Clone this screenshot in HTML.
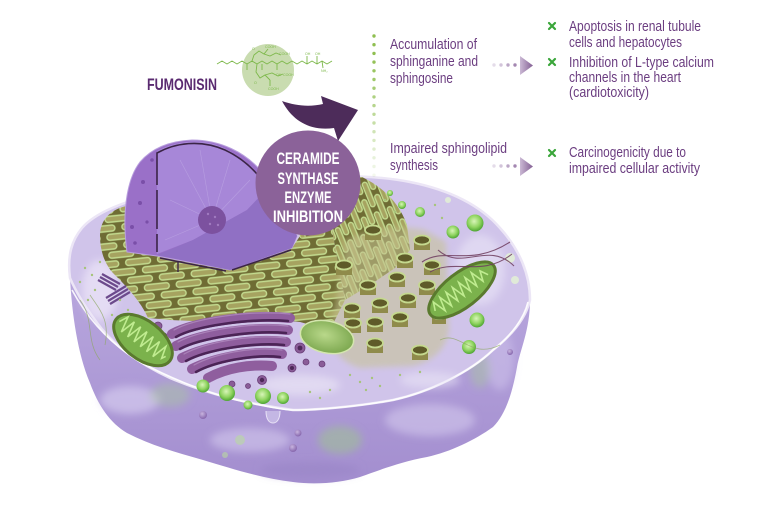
<!DOCTYPE html>
<html><head><meta charset="utf-8"><style>
html,body{margin:0;padding:0;background:#fff;}
svg{display:block;}
text{font-family:"Liberation Sans Narrow","Liberation Sans",sans-serif;}
</style></head><body>
<svg width="768" height="512" viewBox="0 0 768 512" xmlns="http://www.w3.org/2000/svg">
<defs>
  <linearGradient id="body" x1="0" y1="0" x2="0" y2="1">
    <stop offset="0" stop-color="#c2b3e3"/>
    <stop offset="0.6" stop-color="#b09dd8"/>
    <stop offset="1" stop-color="#a38ecf"/>
  </linearGradient>
  <radialGradient id="gs" cx="0.45" cy="0.4" r="0.6">
    <stop offset="0" stop-color="#d8f5b8"/>
    <stop offset="0.6" stop-color="#8fd460"/>
    <stop offset="1" stop-color="#4ea533"/>
  </radialGradient>
  <radialGradient id="ps" cx="0.4" cy="0.35" r="0.6">
    <stop offset="0" stop-color="#c8b4df"/>
    <stop offset="1" stop-color="#8a6bb0"/>
  </radialGradient>
  <radialGradient id="ves" cx="0.45" cy="0.45" r="0.6">
    <stop offset="0" stop-color="#b9d88a"/>
    <stop offset="1" stop-color="#79a54c"/>
  </radialGradient>
  <linearGradient id="ah" x1="0" y1="0" x2="1" y2="0">
    <stop offset="0" stop-color="#cbb9d5"/>
    <stop offset="1" stop-color="#835f93"/>
  </linearGradient>
  <pattern id="er1" width="32" height="18" patternUnits="userSpaceOnUse" patternTransform="rotate(-6)">
    <rect width="32" height="18" fill="#6f6c34"/>
    <rect x="1.5" y="1.5" width="25" height="6" rx="3" fill="#a6a360" stroke="#c3db8f" stroke-width="1.4"/>
    <rect x="17.5" y="10.5" width="25" height="6" rx="3" fill="#a6a360" stroke="#c3db8f" stroke-width="1.4"/>
    <rect x="-14.5" y="10.5" width="25" height="6" rx="3" fill="#a6a360" stroke="#c3db8f" stroke-width="1.4"/>
  </pattern>
  <pattern id="er2" width="32" height="14" patternUnits="userSpaceOnUse" patternTransform="rotate(68)">
    <rect width="32" height="14" fill="#6f6c34"/>
    <rect x="1.5" y="1.5" width="26" height="5" rx="2.5" fill="#a6a360" stroke="#c3db8f" stroke-width="1.4"/>
    <rect x="17.5" y="8.5" width="26" height="5" rx="2.5" fill="#a6a360" stroke="#c3db8f" stroke-width="1.4"/>
    <rect x="-14.5" y="8.5" width="26" height="5" rx="2.5" fill="#a6a360" stroke="#c3db8f" stroke-width="1.4"/>
  </pattern>
  <filter id="blur" x="-50%" y="-50%" width="200%" height="200%"><feGaussianBlur stdDeviation="4"/></filter>
  <filter id="blur3" x="-20%" y="-20%" width="140%" height="140%"><feGaussianBlur stdDeviation="3"/></filter>
</defs>

<!-- cell silhouette / lower body -->
<path d="M70,278 C67,255 72,240 82,228 C95,213 120,203 160,192 C200,185 240,180 300,177 C340,175 380,176 410,182 C450,190 480,205 500,228 C520,250 530,275 530,300 C530,330 520,350 517,367 C512,395 505,415 493,427 C475,440 450,452 427,457 C400,462 380,470 360,477 C340,483 315,485 293,482 C260,478 230,468 203,460 C175,452 150,445 127,433 C110,423 98,405 90,383 C78,355 72,315 70,278 Z" fill="url(#body)"/>
<g filter="url(#blur)">
  <ellipse cx="130" cy="400" rx="30" ry="14" fill="#d4caee" opacity="0.7"/>
  <ellipse cx="250" cy="440" rx="40" ry="12" fill="#d2c8ec" opacity="0.6"/>
  <ellipse cx="430" cy="420" rx="45" ry="16" fill="#d2c8ec" opacity="0.6"/>
  <ellipse cx="500" cy="360" rx="14" ry="30" fill="#ccc0ea" opacity="0.6"/>
  <ellipse cx="340" cy="440" rx="22" ry="14" fill="#9fc292" opacity="0.55"/>
  <ellipse cx="170" cy="395" rx="20" ry="12" fill="#a9c79e" opacity="0.45"/>
  <ellipse cx="480" cy="370" rx="10" ry="18" fill="#a9c79e" opacity="0.45"/>
  <ellipse cx="310" cy="470" rx="50" ry="8" fill="#9a85c6" opacity="0.6"/>
</g>
<g fill="url(#ps)">
  <circle cx="203" cy="415" r="4"/><circle cx="298" cy="433" r="3.5"/><circle cx="293" cy="448" r="4"/>
  <circle cx="182" cy="370" r="3.5"/><circle cx="515" cy="322" r="3"/><circle cx="510" cy="352" r="3"/>
</g>
<circle cx="240" cy="440" r="5" fill="#b9d8a0" opacity="0.6"/>
<circle cx="225" cy="455" r="3" fill="#b9d8a0" opacity="0.6"/>
<path d="M266,411 C266,419 269,423 273,423 C277,423 280,419 280,411" fill="#c4b7e4" stroke="#e8e2f6" stroke-width="1"/>

<!-- top surface -->
<path d="M70,278 C67,255 72,240 82,228 C95,213 120,203 160,192 C200,185 240,180 300,177 C340,175 380,176 410,182 C450,190 480,205 500,228 C520,250 530,275 530,300 C526,318 512,335 493,350 C470,372 430,392 393,400 C360,406 320,410 293,410 C250,404 210,395 170,378 C140,364 112,345 95,320 C84,305 76,292 70,278 Z" fill="#d0c4ea" stroke="#ece6f6" stroke-width="2.5"/>
<path d="M72,290 C84,312 104,340 140,362 C170,378 210,395 250,403 C270,407 285,410 293,410 C320,410 360,406 393,400 C430,392 470,372 493,350 C512,335 524,318 528,302" fill="none" stroke="#ffffff" stroke-width="1.6" opacity="0.9"/>
<g filter="url(#blur)">
  <ellipse cx="100" cy="290" rx="18" ry="30" fill="#ece6f8" opacity="0.7"/>
  <ellipse cx="480" cy="270" rx="25" ry="35" fill="#e6dff5" opacity="0.7"/>
  <ellipse cx="300" cy="385" rx="40" ry="10" fill="#e8e2f5" opacity="0.7"/>
  <ellipse cx="430" cy="380" rx="30" ry="8" fill="#e8e2f5" opacity="0.6"/>
</g>

<!-- ER -->
<path d="M100,236 C100,220 110,210 126,206 L127,252 L157,256 L230,270 L292,248 L300,236 L332,230 L345,300 L330,330 L300,322 L260,318 L215,322 L170,320 L148,318 C140,300 125,285 112,272 C104,262 100,250 100,236 Z" fill="url(#er1)"/>
<path d="M300,238 L292,182 L330,176 L362,177 C385,188 400,205 407,225 L410,250 L395,268 L370,285 L345,300 L332,230 Z" fill="url(#er2)"/>

<!-- tube region -->
<path d="M345,240 C370,230 400,224 425,230 L446,242 L449,330 C446,350 432,362 412,366 L360,368 C340,362 330,348 330,332 L338,290 Z" fill="#c6c392" opacity="0.55" filter="url(#blur3)"/>
<g>
  <g fill="#8f8b4b">
    <rect x="414" y="240" width="16" height="10"/><rect x="397" y="258" width="16" height="10"/><rect x="424" y="265" width="16" height="10"/>
    <rect x="389" y="277" width="16" height="10"/><rect x="419" y="285" width="16" height="10"/><rect x="360" y="285" width="16" height="10"/>
    <rect x="400" y="298" width="16" height="10"/><rect x="372" y="303" width="16" height="10"/><rect x="344" y="308" width="16" height="10"/>
    <rect x="392" y="317" width="16" height="10"/><rect x="367" y="322" width="16" height="10"/><rect x="345" y="323" width="16" height="10"/>
    <rect x="367" y="343" width="16" height="10"/><rect x="412" y="350" width="16" height="10"/><rect x="365" y="230" width="16" height="10"/>
    <rect x="336" y="265" width="16" height="10"/><rect x="432" y="315" width="14" height="9"/>
  </g>
  <g fill="#5f5b29" stroke="#c5d98f" stroke-width="1.8">
    <ellipse cx="422" cy="240" rx="8" ry="4.5"/><ellipse cx="405" cy="258" rx="8" ry="4.5"/><ellipse cx="432" cy="265" rx="8" ry="4.5"/>
    <ellipse cx="397" cy="277" rx="8" ry="4.5"/><ellipse cx="427" cy="285" rx="8" ry="4.5"/><ellipse cx="368" cy="285" rx="8" ry="4.5"/>
    <ellipse cx="408" cy="298" rx="8" ry="4.5"/><ellipse cx="380" cy="303" rx="8" ry="4.5"/><ellipse cx="352" cy="308" rx="8" ry="4.5"/>
    <ellipse cx="400" cy="317" rx="8" ry="4.5"/><ellipse cx="375" cy="322" rx="8" ry="4.5"/><ellipse cx="353" cy="323" rx="8" ry="4.5"/>
    <ellipse cx="375" cy="343" rx="8" ry="4.5"/><ellipse cx="420" cy="350" rx="8" ry="4.5"/><ellipse cx="373" cy="230" rx="8" ry="4.5"/>
    <ellipse cx="344" cy="265" rx="8" ry="4.5"/><ellipse cx="439" cy="315" rx="7" ry="4"/>
  </g>
</g>

<!-- big vesicle -->
<ellipse cx="327" cy="337" rx="27" ry="16" transform="rotate(12 327 337)" fill="url(#ves)" stroke="#d4e6ae" stroke-width="1.5"/>

<!-- Golgi -->
<g fill="none" stroke-linecap="round">
  <g stroke="#8f5e9e" stroke-width="10">
    <path d="M172,334 C195,322 250,314 290,318"/>
    <path d="M176,346 C200,334 252,326 288,330"/>
    <path d="M182,358 C206,346 252,338 286,342"/>
    <path d="M192,369 C214,358 252,350 282,354"/>
    <path d="M208,378 C226,368 250,364 272,366"/>
  </g>
  <g stroke="#4b2456" stroke-width="2.6">
    <path d="M176,337 C195,326 250,318 288,321"/>
    <path d="M180,349 C200,338 252,330 286,333"/>
    <path d="M186,361 C206,350 252,342 284,345"/>
    <path d="M196,372 C214,362 252,354 280,357"/>
  </g>
  <g stroke="#b08abf" stroke-width="1.2" opacity="0.8">
    <path d="M174,330 C195,318 250,310 290,314"/>
    <path d="M178,342 C200,330 252,322 288,326"/>
    <path d="M184,354 C206,342 252,334 286,338"/>
    <path d="M194,365 C214,354 252,346 282,350"/>
  </g>
</g>
<g fill="#8a5c98" stroke="#6a3f78" stroke-width="0.8">
  <circle cx="158" cy="326" r="4"/><circle cx="164" cy="336" r="3"/><circle cx="300" cy="348" r="5"/>
  <circle cx="292" cy="368" r="4"/><circle cx="262" cy="380" r="4.5"/><circle cx="232" cy="384" r="3"/><circle cx="248" cy="386" r="2.5"/>
  <circle cx="306" cy="362" r="3"/><circle cx="322" cy="364" r="3"/>
</g>
<g fill="#4d2858"><circle cx="292" cy="368" r="2"/><circle cx="262" cy="380" r="2.2"/><circle cx="300" cy="348" r="2.4"/></g>

<!-- mitochondria -->
<g transform="rotate(-38 462 290)">
  <ellipse cx="462" cy="290" rx="40" ry="17" fill="#7bb24c" stroke="#5a7a2e" stroke-width="3"/>
  <path d="M428,290 l4,-8 l4,14 l4,-14 l4,14 l4,-14 l4,14 l4,-14 l4,14 l4,-14 l4,14 l4,-14 l4,14 l4,-14 l4,14 l4,-10 l4,8" fill="none" stroke="#c0ec90" stroke-width="1.6"/>
</g>
<g transform="rotate(38 143 340)">
  <ellipse cx="143" cy="340" rx="34" ry="19" fill="#7bb24c" stroke="#5a7a2e" stroke-width="3"/>
  <path d="M113,340 l4,-9 l4,16 l4,-16 l4,16 l4,-16 l4,16 l4,-16 l4,16 l4,-16 l4,16 l4,-16 l4,16 l4,-16 l4,12 l2,-4" fill="none" stroke="#c0ec90" stroke-width="1.6"/>
</g>

<!-- green spheres -->
<g fill="url(#gs)">
  <circle cx="203" cy="386" r="6.5"/><circle cx="227" cy="393" r="8"/><circle cx="263" cy="396" r="8"/>
  <circle cx="283" cy="398" r="6"/><circle cx="248" cy="405" r="4.5"/><circle cx="475" cy="223" r="8.5"/>
  <circle cx="453" cy="232" r="6.5"/><circle cx="477" cy="320" r="7.5"/><circle cx="469" cy="347" r="7"/>
  <circle cx="420" cy="212" r="5"/><circle cx="402" cy="205" r="4"/><circle cx="390" cy="193" r="3"/>
</g>
<g fill="#e4f4d4" opacity="0.8">
  <circle cx="510" cy="258" r="5"/><circle cx="515" cy="280" r="4"/><circle cx="448" cy="200" r="3"/>
</g>

<!-- fibers -->
<g fill="none" stroke="#6e3c5e" stroke-width="1.1" opacity="0.85">
  <path d="M422,262 C445,246 470,268 510,242"/>
  <path d="M430,272 C455,258 482,278 512,254"/>
  <path d="M438,250 C462,272 488,240 514,266"/>
</g>
<g fill="none" stroke="#8ea864" stroke-width="0.8" opacity="0.7">
  <path d="M80,300 C95,320 85,340 100,360"/>
  <path d="M90,295 C100,310 110,320 105,345"/>
  <path d="M440,340 C460,330 470,360 500,345"/>
</g>
<!-- centriole -->
<g stroke="#6c4a8c" stroke-width="2.2">
  <path d="M98,280 L116,290"/><path d="M100,277 L118,287"/><path d="M102,274 L120,284"/>
  <path d="M106,298 L126,286"/><path d="M108,301 L128,289"/><path d="M110,304 L130,292"/>
</g>
<g fill="#a6c47a">
  <circle cx="85" cy="268" r="1.2"/><circle cx="92" cy="275" r="1.2"/><circle cx="80" cy="282" r="1.2"/><circle cx="95" cy="290" r="1.2"/>
  <circle cx="88" cy="300" r="1.2"/><circle cx="100" cy="262" r="1.2"/><circle cx="350" cy="375" r="1.2"/><circle cx="360" cy="382" r="1.2"/>
  <circle cx="372" cy="378" r="1.2"/><circle cx="380" cy="386" r="1.2"/><circle cx="366" cy="390" r="1.2"/><circle cx="310" cy="392" r="1.2"/>
  <circle cx="320" cy="398" r="1.2"/><circle cx="330" cy="390" r="1.2"/><circle cx="400" cy="375" r="1.2"/><circle cx="420" cy="372" r="1.2"/>
  <circle cx="385" cy="200" r="1.2"/><circle cx="395" cy="212" r="1.2"/><circle cx="435" cy="205" r="1.2"/><circle cx="442" cy="218" r="1.2"/>
  <circle cx="120" cy="300" r="1.2"/><circle cx="128" cy="310" r="1.2"/><circle cx="112" cy="315" r="1.2"/>
</g>

<!-- nucleus -->
<path d="M127,252 C122,215 126,180 140,162 C152,148 170,141 192,140 C220,140 245,152 262,172 L272,195 L297,236 L292,248 L230,270 L157,256 Z" fill="#9a70c8" stroke="#b9a0de" stroke-width="1"/>
<g fill="#7a4fa8"><circle cx="143" cy="182" r="2"/><circle cx="140" cy="203" r="2"/><circle cx="132" cy="227" r="2"/><circle cx="135" cy="243" r="1.8"/><circle cx="152" cy="160" r="1.8"/><circle cx="147" cy="222" r="1.6"/></g>
<path d="M157,254 L157,151 C172,143 190,140 205,142 C230,146 252,165 268,188 L247,210 L193,240 Z" fill="#a787d8"/>
<path d="M157,255 L193,240 L247,210 L268,188 L287,207 L297,236 L292,248 L230,270 Z" fill="#9070c4"/>
<g fill="none" stroke="#c2aee6" stroke-width="0.6" opacity="0.6">
  <path d="M212,220 L180,160"/><path d="M212,220 L200,150"/><path d="M212,220 L230,160"/><path d="M212,220 L170,200"/><path d="M212,220 L165,240"/><path d="M212,220 L250,180"/>
</g>
<circle cx="212" cy="220" r="14" fill="#7c519f"/>
<g fill="#a07ac0"><circle cx="208" cy="214" r="1.2"/><circle cx="215" cy="217" r="1.2"/><circle cx="210" cy="224" r="1.2"/><circle cx="218" cy="225" r="1.2"/></g>
<g fill="none" stroke="#3b2446" stroke-width="1.6">
  <path d="M157,252 L157,234 M157,229 L157,190 M157,185 L157,153 C175,143 200,139 225,150 C240,157 252,167 262,180"/>
  <path d="M160,258 L226,271 M232,270 L291,250"/>
</g>
<path d="M178,262 L178,272" stroke="#3b2446" stroke-width="1.4"/>

<!-- ceramide circle -->
<circle cx="308" cy="183" r="52.5" fill="#8b6299"/>
<g fill="#ffffff" font-weight="bold" font-size="17" text-anchor="middle">
  <text x="308" y="164" textLength="63" lengthAdjust="spacingAndGlyphs">CERAMIDE</text>
  <text x="308" y="184" textLength="61" lengthAdjust="spacingAndGlyphs">SYNTHASE</text>
  <text x="308" y="203" textLength="47" lengthAdjust="spacingAndGlyphs">ENZYME</text>
  <text x="308" y="222" textLength="70" lengthAdjust="spacingAndGlyphs">INHIBITION</text>
</g>

<!-- curved arrow -->
<path d="M282,101 C296,106 310,107 323,104 L321,96 L358,110 L338,141 L334,128 C314,131 294,124 282,101 Z" fill="#4d2c5a"/>

<!-- molecule -->
<circle cx="268" cy="70" r="26" fill="#c9dcb0"/>
<g stroke="#7db84a" stroke-width="0.9" fill="none">
  <path d="M217,64 L222,61 L227,64 L232,61 L237,64 L242,61 L247,64 L252,61 L257,64 L262,61 L267,64 L272,61 L277,64 L282,61 L287,64 L292,61 L297,64 L302,61 L307,64 L312,61 L317,64 L322,61 L327,64 L332,61"/>
  <path d="M247,64 L247,70 M262,64 L262,70 M277,64 L277,70 M307,64 L307,56 M317,64 L317,56 M322,61 L323,68"/>
  <path d="M252,61 L254,55 L259,51 L264,54 L268,49 M264,54 L270,56 L276,53 L281,55"/>
  <path d="M257,64 L256,72 L260,78 L265,75 L270,80 M265,75 L272,73 L278,76 L283,74 M270,80 L270,86"/>
</g>
<g fill="#7db84a" font-size="3.6" font-family="Liberation Sans, sans-serif">
  <text x="252" y="50">O</text><text x="265" y="48">COOH</text><text x="279" y="55">COOH</text>
  <text x="276" y="76">OH</text><text x="283" y="76">COOH</text><text x="268" y="90">COOH</text>
  <text x="305" y="55">OH</text><text x="315" y="55">OH</text><text x="321" y="72">NH₂</text><text x="254" y="84">O</text>
</g>
<text x="147" y="90" font-size="17" font-weight="bold" fill="#5a2a70" textLength="70" lengthAdjust="spacingAndGlyphs">FUMONISIN</text>

<!-- vertical dotted line -->
<g fill="#8fbf50">
  <circle cx="374" cy="36" r="1.7"/><circle cx="374" cy="44.7" r="1.7"/><circle cx="374" cy="53.4" r="1.7"/><circle cx="374" cy="62.1" r="1.7" opacity="0.95"/>
  <circle cx="374" cy="70.8" r="1.7" opacity="0.9"/><circle cx="374" cy="79.5" r="1.7" opacity="0.85"/><circle cx="374" cy="88.2" r="1.7" opacity="0.8"/>
  <circle cx="374" cy="96.9" r="1.7" opacity="0.72"/><circle cx="374" cy="105.6" r="1.7" opacity="0.65"/><circle cx="374" cy="114.3" r="1.7" opacity="0.58"/>
  <circle cx="374" cy="123" r="1.7" opacity="0.5"/><circle cx="374" cy="131.7" r="1.7" opacity="0.42"/><circle cx="374" cy="140.4" r="1.7" opacity="0.35"/>
  <circle cx="374" cy="149.1" r="1.7" opacity="0.28"/><circle cx="374" cy="157.8" r="1.7" opacity="0.22"/><circle cx="374" cy="166.5" r="1.7" opacity="0.16"/>
  <circle cx="374" cy="175.2" r="1.7" opacity="0.1"/>
</g>

<!-- left texts -->
<g fill="#6b3d80" font-size="15">
  <text x="390" y="49" textLength="87" lengthAdjust="spacingAndGlyphs">Accumulation of</text>
  <text x="390" y="66" textLength="88" lengthAdjust="spacingAndGlyphs">sphinganine and</text>
  <text x="390" y="83" textLength="63" lengthAdjust="spacingAndGlyphs">sphingosine</text>
  <text x="390" y="153" textLength="117" lengthAdjust="spacingAndGlyphs">Impaired sphingolipid</text>
  <text x="390" y="170" textLength="48" lengthAdjust="spacingAndGlyphs">synthesis</text>
</g>

<!-- dotted arrows -->
<g>
  <circle cx="494" cy="65" r="1.7" fill="#e4dce9"/><circle cx="501" cy="65" r="1.7" fill="#d2c4da"/><circle cx="508" cy="65" r="1.7" fill="#bba6c6"/><circle cx="515" cy="65" r="1.7" fill="#a487b1"/>
  <path d="M520,56 L533,65.5 L520,75 Z" fill="url(#ah)"/>
  <circle cx="494" cy="166" r="1.7" fill="#e4dce9"/><circle cx="501" cy="166" r="1.7" fill="#d2c4da"/><circle cx="508" cy="166" r="1.7" fill="#bba6c6"/><circle cx="515" cy="166" r="1.7" fill="#a487b1"/>
  <path d="M520,157 L533,166.5 L520,176 Z" fill="url(#ah)"/>
</g>

<!-- x marks -->
<g stroke="#3aa63a" stroke-width="2.2" stroke-linecap="round">
  <path d="M549,23 L555,29 M555,23 L549,29"/>
  <path d="M549,59 L555,65 M555,59 L549,65"/>
  <path d="M549,150 L555,156 M555,150 L549,156"/>
</g>

<!-- right texts -->
<g fill="#6b3d80" font-size="15">
  <text x="569" y="31" textLength="132" lengthAdjust="spacingAndGlyphs">Apoptosis in renal tubule</text>
  <text x="569" y="47" textLength="113" lengthAdjust="spacingAndGlyphs">cells and hepatocytes</text>
  <text x="569" y="67" textLength="145" lengthAdjust="spacingAndGlyphs">Inhibition of L-type calcium</text>
  <text x="569" y="82" textLength="112" lengthAdjust="spacingAndGlyphs">channels in the heart</text>
  <text x="569" y="97" textLength="80" lengthAdjust="spacingAndGlyphs">(cardiotoxicity)</text>
  <text x="569" y="157" textLength="117" lengthAdjust="spacingAndGlyphs">Carcinogenicity due to</text>
  <text x="569" y="173" textLength="131" lengthAdjust="spacingAndGlyphs">impaired cellular activity</text>
</g>
</svg>
</body></html>
